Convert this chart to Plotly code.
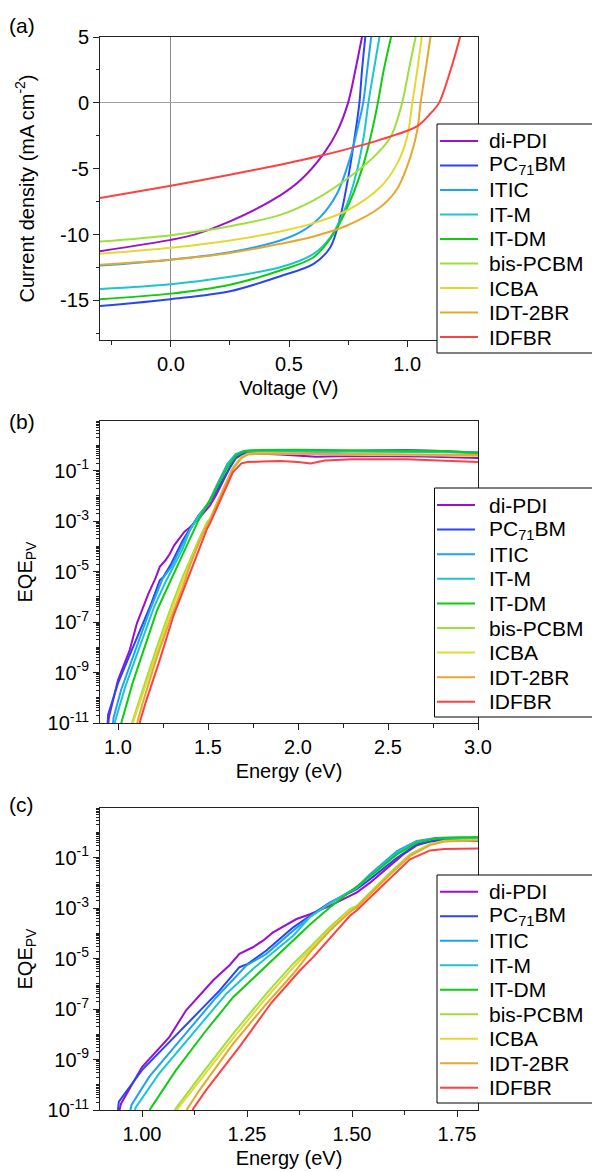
import numpy as np
import plotly.graph_objects as go

W, H = 592, 1172
FONT = "Liberation Sans, Arial, sans-serif"

NAMES = ["di-PDI", "PC<sub>71</sub>BM", "ITIC", "IT-M", "IT-DM", "bis-PCBM", "ICBA", "IDT-2BR", "IDFBR"]
COLORS = ["#9A10D2", "#2A45F5", "#1EA2F5", "#1CC6CC", "#10CC10", "#9CE03C", "#E6D833", "#E6A82E", "#FF4040"]

# ---------------- (a) J-V curves: voltage (V) / current density (mA cm^-2)
V_DIPDI = [-0.3, 0.0, 0.1, 0.25, 0.463, 0.548, 0.647, 0.703, 0.75, 0.781, 0.809, 0.82]
J_DIPDI = [-11.26, -10.4, -10.0, -9.0, -7.02, -5.88, -3.85, -2.2, 0.0, 2.49, 5.0, 6.0]
V_PC71 = [-0.3, 0.0, 0.25, 0.463, 0.604, 0.675, 0.717, 0.746, 0.774, 0.798, 0.809, 0.823, 0.83]
J_PC71 = [-15.42, -14.9, -14.3, -13.16, -12.22, -10.96, -8.67, -6.13, -3.09, 0.0, 2.49, 5.0, 6.0]
V_ITIC = [-0.3, 0.0, 0.25, 0.463, 0.548, 0.632, 0.703, 0.76, 0.795, 0.814, 0.831, 0.848, 0.856]
J_ITIC = [-12.35, -11.9, -11.34, -10.45, -9.82, -8.67, -6.9, -4.1, -1.57, 0.0, 2.49, 5.0, 6.0]
V_ITM = [-0.3, 0.0, 0.25, 0.463, 0.604, 0.675, 0.746, 0.788, 0.816, 0.836, 0.859, 0.883, 0.893]
J_ITM = [-14.13, -13.77, -13.2, -12.48, -11.46, -10.2, -7.66, -5.12, -2.59, 0.0, 2.49, 5.0, 6.0]
V_ITDM = [-0.3, 0.0, 0.25, 0.463, 0.604, 0.689, 0.76, 0.816, 0.852, 0.876, 0.901, 0.932, 0.945]
J_ITDM = [-14.9, -14.48, -13.8, -12.73, -11.72, -9.94, -7.4, -4.61, -2.08, 0.0, 2.49, 5.0, 6.0]
V_BIS = [-0.3, 0.0, 0.25, 0.463, 0.604, 0.746, 0.859, 0.93, 0.979, 1.007, 1.036, 1.048]
J_BIS = [-10.53, -10.04, -9.36, -8.5, -7.4, -5.76, -4.1, -2.59, 0.0, 2.49, 5.0, 6.0]
V_ICBA = [-0.3, 0.0, 0.25, 0.463, 0.604, 0.746, 0.887, 0.958, 1.0, 1.022, 1.043, 1.062, 1.07]
J_ICBA = [-11.46, -11.0, -10.45, -9.76, -9.13, -8.17, -6.39, -4.61, -2.59, 0.0, 2.49, 5.0, 6.0]
V_IDT = [-0.3, 0.0, 0.25, 0.463, 0.604, 0.746, 0.887, 0.958, 1.014, 1.043, 1.057, 1.078, 1.099, 1.107]
J_IDT = [-12.28, -11.9, -11.4, -10.7, -10.14, -9.31, -7.91, -6.52, -4.1, -2.08, 0.0, 2.49, 5.0, 6.0]
V_IDFBR = [-0.3, 0.0, 0.25, 0.463, 0.647, 0.887, 1.043, 1.099, 1.135, 1.184, 1.224, 1.238]
J_IDFBR = [-7.23, -6.29, -5.45, -4.69, -3.96, -2.79, -1.77, -0.81, 0.0, 2.49, 5.0, 6.0]

# ---------------- (b),(c) EQE_PV spectra: energy (eV) / log10(EQE_PV)
E_DIPDI = [0.945, 0.95, 1.0, 1.065, 1.105, 1.169, 1.209, 1.232, 1.264, 1.288, 1.312, 1.368, 1.40, 1.447, 1.495, 1.511, 1.543, 1.591, 1.622, 1.654, 1.686, 1.72, 1.8, 1.9, 2.0, 2.1, 2.3, 2.5, 2.7, 2.9, 3.0]
L_DIPDI = [-11.1, -10.75, -9.3, -8.11, -7.05, -5.87, -5.25, -4.81, -4.55, -4.29, -3.96, -3.43, -3.24, -2.91, -2.51, -2.38, -1.99, -1.33, -0.87, -0.51, -0.36, -0.33, -0.33, -0.36, -0.4, -0.45, -0.42, -0.42, -0.44, -0.48, -0.5]
E_PC71 = [0.942, 0.945, 1.0, 1.073, 1.137, 1.185, 1.232, 1.252, 1.296, 1.36, 1.40, 1.447, 1.511, 1.543, 1.607, 1.654, 1.70, 1.75, 1.8, 2.0, 2.2, 2.4, 2.6, 2.8, 3.0]
L_PC71 = [-11.1, -10.67, -9.42, -8.17, -7.05, -6.26, -5.34, -5.21, -4.68, -3.76, -3.30, -2.78, -2.25, -1.85, -1.0, -0.47, -0.3, -0.26, -0.25, -0.25, -0.24, -0.2, -0.18, -0.22, -0.28]
E_ITIC = [0.971, 0.975, 1.017, 1.097, 1.177, 1.248, 1.296, 1.36, 1.40, 1.447, 1.511, 1.543, 1.607, 1.654, 1.70, 1.75, 1.8, 2.0, 2.2, 2.4, 2.6, 2.8, 3.0]
L_ITIC = [-11.1, -10.8, -9.69, -8.11, -6.53, -5.28, -4.81, -3.89, -3.35, -2.8, -2.18, -1.66, -0.74, -0.34, -0.22, -0.2, -0.2, -0.2, -0.22, -0.22, -0.22, -0.25, -0.3]
E_ITM = [0.982, 0.985, 1.041, 1.121, 1.201, 1.264, 1.288, 1.36, 1.40, 1.447, 1.511, 1.543, 1.607, 1.654, 1.70, 1.75, 1.8, 2.0, 2.2, 2.4, 2.6, 2.8, 3.0]
L_ITM = [-11.1, -10.9, -9.55, -7.97, -6.39, -5.41, -5.08, -4.09, -3.35, -2.82, -2.2, -1.72, -0.8, -0.38, -0.24, -0.22, -0.22, -0.22, -0.24, -0.25, -0.26, -0.27, -0.28]
E_ITDM = [1.017, 1.02, 1.081, 1.153, 1.217, 1.296, 1.36, 1.40, 1.447, 1.511, 1.559, 1.607, 1.654, 1.70, 1.75, 1.8, 2.0, 2.2, 2.4, 2.6, 2.8, 3.0]
L_ITDM = [-11.1, -10.95, -9.42, -7.84, -6.53, -5.3, -4.3, -3.65, -2.97, -2.15, -1.53, -0.87, -0.41, -0.22, -0.19, -0.18, -0.17, -0.19, -0.2, -0.2, -0.22, -0.3]
E_BIS = [1.077, 1.08, 1.137, 1.217, 1.296, 1.36, 1.40, 1.447, 1.495, 1.511, 1.543, 1.591, 1.638, 1.686, 1.72, 1.8, 2.0, 2.2, 2.4, 2.6, 2.8, 3.0]
L_BIS = [-11.1, -10.95, -9.69, -7.97, -6.39, -5.2, -4.55, -3.76, -3.04, -2.91, -2.38, -1.59, -0.87, -0.45, -0.33, -0.3, -0.33, -0.35, -0.36, -0.36, -0.38, -0.4]
E_ICBA = [1.081, 1.085, 1.137, 1.217, 1.296, 1.36, 1.40, 1.447, 1.495, 1.511, 1.543, 1.591, 1.638, 1.686, 1.72, 1.8, 2.0, 2.2, 2.4, 2.6, 2.8, 3.0]
L_ICBA = [-11.1, -10.95, -9.85, -8.15, -6.55, -5.35, -4.65, -3.85, -3.1, -2.97, -2.45, -1.65, -0.92, -0.47, -0.34, -0.3, -0.33, -0.36, -0.38, -0.38, -0.4, -0.42]
E_IDT = [1.105, 1.108, 1.137, 1.217, 1.296, 1.36, 1.40, 1.447, 1.495, 1.511, 1.543, 1.591, 1.638, 1.686, 1.72, 1.8, 2.0, 2.2, 2.4, 2.6, 2.8, 3.0]
L_IDT = [-11.1, -10.95, -10.21, -8.37, -6.79, -5.6, -4.75, -3.9, -3.15, -2.97, -2.45, -1.66, -0.93, -0.5, -0.36, -0.32, -0.33, -0.34, -0.35, -0.35, -0.36, -0.38]
E_IDFBR = [1.119, 1.122, 1.153, 1.232, 1.308, 1.376, 1.407, 1.45, 1.495, 1.511, 1.543, 1.591, 1.638, 1.686, 1.72, 1.8, 1.9, 2.0, 2.07, 2.15, 2.3, 2.6, 2.8, 3.0]
L_IDFBR = [-11.1, -10.95, -10.2, -8.5, -6.75, -5.47, -4.95, -4.15, -3.3, -3.09, -2.58, -1.79, -1.06, -0.71, -0.66, -0.64, -0.62, -0.66, -0.71, -0.6, -0.55, -0.55, -0.6, -0.66]

JV = [(V_DIPDI, J_DIPDI), (V_PC71, J_PC71), (V_ITIC, J_ITIC), (V_ITM, J_ITM), (V_ITDM, J_ITDM),
      (V_BIS, J_BIS), (V_ICBA, J_ICBA), (V_IDT, J_IDT), (V_IDFBR, J_IDFBR)]
EQE = [(E_DIPDI, L_DIPDI), (E_PC71, L_PC71), (E_ITIC, L_ITIC), (E_ITM, L_ITM), (E_ITDM, L_ITDM),
       (E_BIS, L_BIS), (E_ICBA, L_ICBA), (E_IDT, L_IDT), (E_IDFBR, L_IDFBR)]

fig = go.Figure()
for i in range(9):
    v, j = JV[i]
    fig.add_trace(go.Scatter(x=v, y=j, mode="lines", line=dict(color=COLORS[i], width=2, shape="spline", smoothing=0.9),
                             showlegend=False, hoverinfo="skip", xaxis="x", yaxis="y"))
for ax in ["2", "3"]:
    for i in range(9):
        e, l = EQE[i]
        fig.add_trace(go.Scatter(x=e, y=10 ** np.array(l), mode="lines", line=dict(color=COLORS[i], width=2),
                                 showlegend=False, hoverinfo="skip", xaxis="x" + ax, yaxis="y" + ax))


def px(x):
    return x / W


def py(y):
    return 1 - y / H


XDOM = [px(100), px(478)]
axcommon = dict(showline=True, linecolor="#222", linewidth=1, mirror=True, ticks="outside", ticklen=6,
                tickcolor="#222", showgrid=False, automargin=False,
                tickfont=dict(size=20, color="black", family=FONT),
                title_font=dict(size=20, color="black", family=FONT))

LOG_EXP = list(range(-11, 0, 2))
log_major = [10.0 ** k for k in LOG_EXP]
log_text = ["10<sup>%d</sup>" % k for k in LOG_EXP]
log_minor = [m * 10.0 ** k for k in range(-11, 1) for m in range(2, 10)] + [10.0 ** k for k in range(-10, 1, 2)]

fig.update_layout(
    template="none",
    width=W, height=H, margin=dict(l=0, r=0, t=0, b=0, pad=0), autosize=False,
    paper_bgcolor="white", plot_bgcolor="white",
    font=dict(family=FONT, size=20, color="black"),
    xaxis=dict(axcommon, domain=XDOM, anchor="y", range=[-0.3, 1.3],
               tickvals=[0, 0.5, 1.0], ticktext=["0.0", "0.5", "1.0"],
               minor=dict(tickvals=[-0.25, 0.25, 0.75, 1.25], ticklen=3.5, tickcolor="#222"),
               zeroline=True, zerolinecolor="#8a8a8a", zerolinewidth=1.2,
               title=dict(text="Voltage (V)", standoff=6)),
    yaxis=dict(axcommon, domain=[py(340), py(37)], anchor="x", range=[-18, 5],
               tickvals=[-15, -10, -5, 0, 5], ticktext=["-15", "-10", "-5", "0", "5"],
               minor=dict(tickvals=[-17.5, -12.5, -7.5, -2.5, 2.5], ticklen=3.5, tickcolor="#222"),
               zeroline=True, zerolinecolor="#a0a0a0", zerolinewidth=1.2,
               title=dict(text="Current density (mA cm<sup>-2</sup>)", standoff=20)),
    xaxis2=dict(axcommon, domain=XDOM, anchor="y2", range=[0.9, 3.0],
                tickvals=[1.0, 1.5, 2.0, 2.5, 3.0], ticktext=["1.0", "1.5", "2.0", "2.5", "3.0"],
                minor=dict(tickvals=[1.25, 1.75, 2.25, 2.75], ticklen=3.5, tickcolor="#222"),
                zeroline=False, title=dict(text="Energy (eV)", standoff=6)),
    yaxis2=dict(axcommon, domain=[py(723), py(421)], anchor="x2", type="log", range=[-11, 0.97],
                tickvals=log_major, ticktext=log_text,
                minor=dict(tickvals=log_minor, ticklen=3, tickcolor="#222"),
                zeroline=False, title=dict(text="EQE<sub>PV</sub>", standoff=9)),
    xaxis3=dict(axcommon, domain=XDOM, anchor="y3", range=[0.9, 1.8],
                tickvals=[1.0, 1.25, 1.5, 1.75], ticktext=["1.00", "1.25", "1.50", "1.75"],
                minor=dict(tickvals=[1.125, 1.375, 1.625], ticklen=3.5, tickcolor="#222"),
                zeroline=False, title=dict(text="Energy (eV)", standoff=6)),
    yaxis3=dict(axcommon, domain=[py(1110), py(808)], anchor="x3", type="log", range=[-11, 0.97],
                tickvals=log_major, ticktext=log_text,
                minor=dict(tickvals=log_minor, ticklen=3, tickcolor="#222"),
                zeroline=False, title=dict(text="EQE<sub>PV</sub>", standoff=9)),
)

# panel labels
for lab, yc in [("(a)", 26), ("(b)", 421), ("(c)", 804)]:
    fig.add_annotation(text=lab, x=px(7), y=py(yc), xref="paper", yref="paper", xanchor="left", yanchor="middle",
                       showarrow=False, font=dict(size=21, family=FONT, color="black"))

# legends (one per panel)
LEG = [  # box left, box top, box bottom, first entry centre, step, line x0, line x1, text x
    (437, 124, 353, 141, 24.5, 440, 478, 487),
    (434.5, 488, 717, 505, 24.6, 437, 475, 487),
    (437, 875, 1103, 891.7, 24.5, 440, 478, 487),
]
for bx, bt, bb, y0, step, lx0, lx1, tx in LEG:
    fig.add_shape(type="rect", xref="paper", yref="paper", x0=px(bx), x1=px(W + 2), y0=py(bb), y1=py(bt),
                  line=dict(color="black", width=1), fillcolor="white", layer="above")
    for i in range(9):
        yc = y0 + i * step
        fig.add_shape(type="line", xref="paper", yref="paper", x0=px(lx0), x1=px(lx1), y0=py(yc), y1=py(yc),
                      line=dict(color=COLORS[i], width=2), layer="above")
        fig.add_annotation(text=NAMES[i], x=px(tx), y=py(yc), xref="paper", yref="paper", xanchor="left",
                           yanchor="middle", showarrow=False, font=dict(size=21, family=FONT, color="black"))

fig.write_html("out.html", config={"displayModeBar": False},
               post_script="document.body.style.margin='0';")
